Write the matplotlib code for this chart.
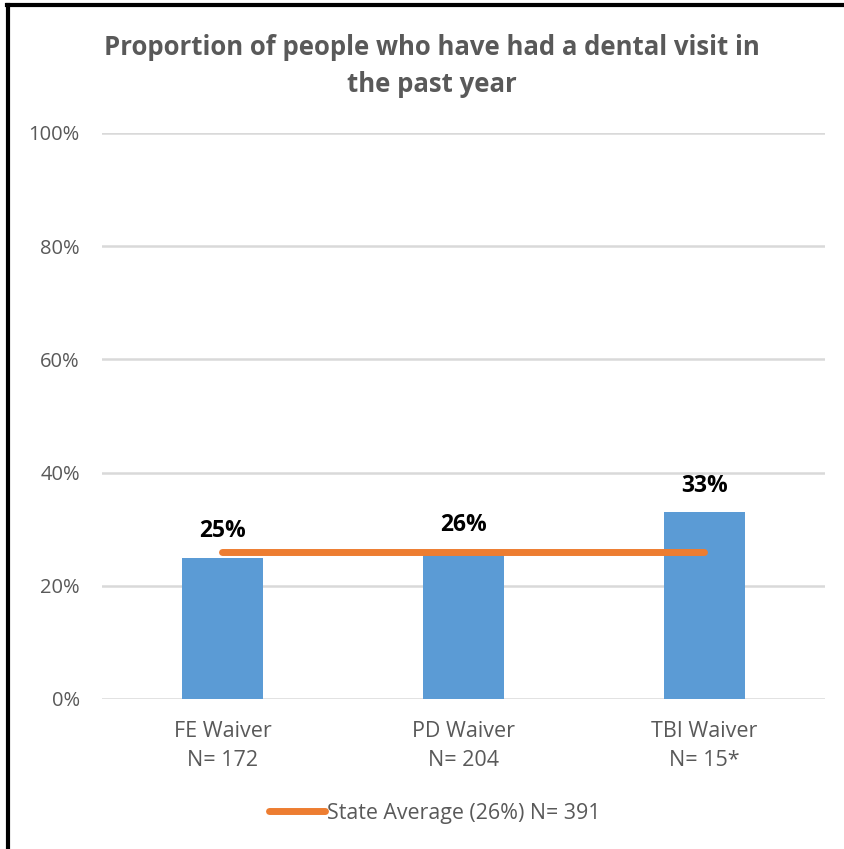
import matplotlib.pyplot as plt
from matplotlib.lines import Line2D

categories = ["FE Waiver\nN= 172", "PD Waiver\nN= 204", "TBI Waiver\nN= 15*"]
values = [25, 26, 33]
state_avg = 26
legend_label = "State Average (26%) N= 391"
yticks = [0, 20, 40, 60, 80, 100]

plt.rcParams['font.family'] = ['Open Sans', 'DejaVu Sans']

fig = plt.figure(figsize=(8.45, 8.49), dpi=100)
W, H = 845, 849
# plot area in pixels: x 102..825, y 133..699
ax = fig.add_axes([102 / W, 1 - 699 / H, (825 - 102) / W, (699 - 133) / H])

x = list(range(len(categories)))
ax.bar(x, values, width=0.335, color='#5B9BD5', zorder=2)
ax.plot(x, [state_avg] * len(x), color='#ED7D31', lw=5, solid_capstyle='round',
        zorder=3, label=legend_label)

for xi, v in zip(x, values):
    ax.text(xi, v + 2.6, "%d%%" % v, ha='center', va='bottom', fontsize=16.5,
            fontweight='bold', color='#000000')

ax.set_xlim(-0.5, 2.5)
ax.set_ylim(0, 100)
ax.set_yticks(yticks)
ax.set_yticklabels(["%d%%" % t for t in yticks])
ax.set_xticks(x)
ax.set_xticklabels(categories, linespacing=1.5)
ax.tick_params(axis='both', length=0, labelcolor='#595959')
ax.tick_params(axis='x', pad=16, labelsize=15.5)
ax.tick_params(axis='y', pad=16, labelsize=14.5)
ax.grid(axis='y', color='#D9D9D9', lw=1.8, zorder=0)
for s in ax.spines.values():
    s.set_visible(False)

fig.text(432 / W, 1 - 66 / H,
         "Proportion of people who have had a dental visit in\nthe past year",
         ha='center', va='center', fontsize=18.5, fontweight='bold',
         color='#595959', linespacing=1.5)

leg = fig.legend(loc='center', bbox_to_anchor=(435 / W, 1 - 813 / H),
                 frameon=False, fontsize=15.4, handlelength=2.6, handletextpad=0.1)
for t in leg.get_texts():
    t.set_color('#595959')

# outer frame (top and left only)
fig.add_artist(Line2D([8.5 / W, 8.5 / W], [0, 1 - 5 / H], color='black', lw=3,
                      transform=fig.transFigure))
fig.add_artist(Line2D([7 / W, 1], [1 - 5 / H, 1 - 5 / H], color='black', lw=3,
                      transform=fig.transFigure))

plt.savefig("out.png", dpi=100)
